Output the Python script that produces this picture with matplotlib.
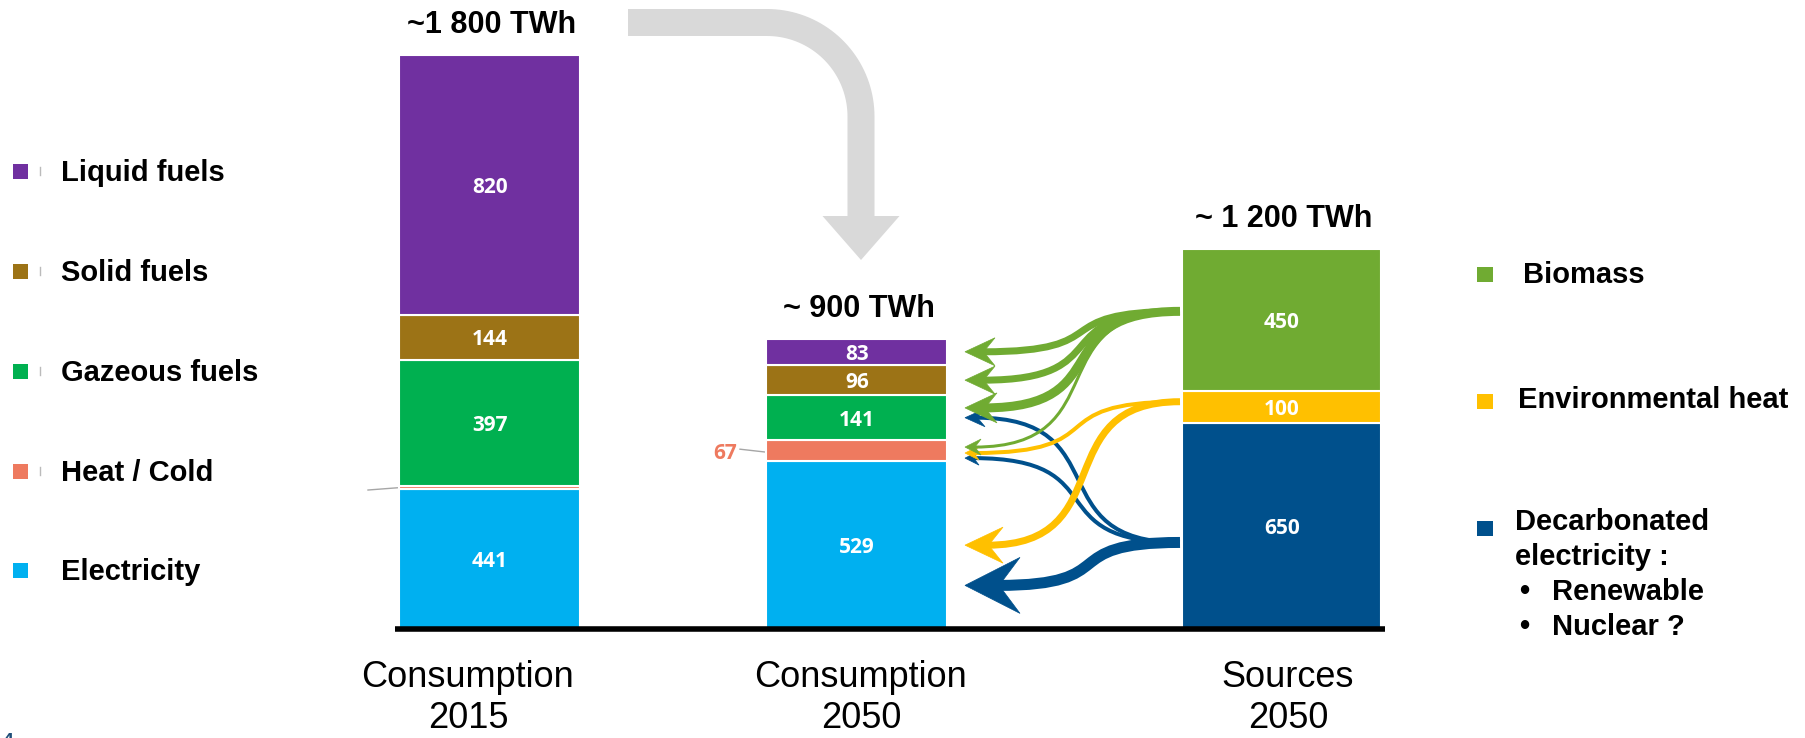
import numpy as np
import matplotlib
matplotlib.use('Agg')
import matplotlib.pyplot as plt
import matplotlib.transforms as mtransforms
from matplotlib.path import Path
from matplotlib.patches import PathPatch, Polygon, Rectangle

# final energy by carrier, stacked bottom -> top
carriers = ['Electricity', 'Heat / Cold', 'Gazeous fuels', 'Solid fuels', 'Liquid fuels']
cons_2015 = [441, 10, 397, 144, 820]
cons_2050 = [529, 67, 141, 96, 83]
carrier_colors = ['#00B0F0', '#EE7A5F', '#00B050', '#9C7316', '#7030A0']

# primary sources in 2050, stacked bottom -> top
sources = ['Decarbonated electricity', 'Environmental heat', 'Biomass']
src_2050 = [650, 100, 450]
source_colors = ['#00508C', '#FFC000', '#70AB32']

column_labels = [['Consumption', '2015'], ['Consumption', '2050'], ['Sources', '2050']]
total_labels = ['~1 800 TWh', '~ 900 TWh', '~ 1 200 TWh']

# which source feeds which carrier in 2050
flow_links = [
    ('Decarbonated electricity', 'Gazeous fuels'),
    ('Decarbonated electricity', 'Heat / Cold'),
    ('Decarbonated electricity', 'Electricity'),
    ('Environmental heat', 'Heat / Cold'),
    ('Environmental heat', 'Electricity'),
    ('Biomass', 'Liquid fuels'),
    ('Biomass', 'Solid fuels'),
    ('Biomass', 'Gazeous fuels'),
    ('Biomass', 'Heat / Cold'),
]
# arrow styling per link: (exit frac, entry frac, line px, head length px, head width px)
flow_style = [
    (0.42, 0.50, 4, 20, 18),
    (0.42, 0.15, 4, 14, 14),
    (0.42, 0.26, 11, 55, 56),
    (0.67, 0.39, 4, 14, 14),
    (0.67, 0.50, 7, 38, 36),
    (0.56, 0.50, 7, 30, 28),
    (0.56, 0.50, 7, 30, 28),
    (0.56, 0.72, 9, 32, 30),
    (0.56, 0.67, 3, 16, 16),
]

W, H = 1806, 738
PX = 0.317      # pixels per TWh
BASE = 629      # baseline, pixels from top
FONT = 'Liberation Sans'
NUMFONT = 'Open Sans'

fig = plt.figure(figsize=(W / 100, H / 100), dpi=100)
ax = fig.add_axes([0, 0, 1, 1])
ax.set_xlim(0, W)
ax.set_ylim(-(H - BASE) / PX, BASE / PX)
ax.axis('off')
# pixel coordinates measured from the top-left corner
px = mtransforms.Affine2D().scale(1 / W, -1 / H).translate(0, 1) + fig.transFigure

bar_x = [490, 857, 1282]
bar_w = [181, 181, 199]
stacks = [cons_2015, cons_2050, src_2050]
colors = [carrier_colors, carrier_colors, source_colors]

for x, w, vals, cols in zip(bar_x, bar_w, stacks, colors):
    bottoms = np.concatenate([[0], np.cumsum(vals)[:-1]])
    ax.bar([x] * len(vals), vals, width=w, bottom=bottoms, color=cols,
           edgecolor='white', linewidth=1.5, zorder=2)
    for i, (v, b) in enumerate(zip(vals, bottoms)):
        if vals is not src_2050 and i == 1:
            continue
        ax.text(x, b + v / 2, str(v), ha='center', va='center_baseline', color='white',
                fontsize=15, fontweight='bold', family=NUMFONT, zorder=3)

# totals above the columns
for x, vals, lab in zip(bar_x, stacks, total_labels):
    ax.text(x + 2, sum(vals) + 33 / PX, lab, ha='center', va='center_baseline',
            fontsize=22, fontweight='bold', family=FONT)

# baseline
ax.plot([395, 1385], [0, 0], color='black', lw=4, solid_capstyle='butt', zorder=4)

# column names
label_x = [468, 861, 1288]
for x, (l1, l2) in zip(label_x, column_labels):
    ax.text(x, 687, l1, transform=px, ha='center', va='baseline', fontsize=26, family=FONT)
    ax.text(x, 728, l2, transform=px, ha='center', va='baseline', fontsize=26, family=FONT)

# heat / cold leader lines
heat_2015 = cons_2015[0] + cons_2015[1] / 2
ax.plot([368, bar_x[0] - bar_w[0] / 2], [heat_2015 - 2.4 / PX, heat_2015],
        color='#A6A6A6', lw=1, zorder=1)
heat_2050 = cons_2050[0] + cons_2050[1] / 2
ax.plot([740, bar_x[1] - bar_w[1] / 2], [heat_2050 + 1.5 / PX, heat_2050 - 1.5 / PX],
        color='#A6A6A6', lw=1, zorder=1)
ax.text(737, heat_2050, str(cons_2050[1]), ha='right', va='center_baseline',
        color=carrier_colors[1], fontsize=15, fontweight='bold', family=NUMFONT)

# big grey arrow from 2015 to 2050
vx = bar_x[1] + 4
th = np.linspace(-np.pi / 2, 0, 40)
arc_x = vx - 94 + 94 * np.cos(th)
arc_y = 116.5 + 94 * np.sin(th)
gx = np.concatenate([[628], arc_x, [vx]])
gy = np.concatenate([[22.5], arc_y, [217]])
ax.plot(gx, gy, transform=px, color='#D9D9D9', lw=27 * 0.72,
        solid_capstyle='butt', solid_joinstyle='round', zorder=1)
ax.add_patch(Polygon([(vx - 38.5, 216), (vx + 38.5, 216), (vx, 260)], closed=True,
                     transform=px, fc='#D9D9D9', ec='none', zorder=1))


def seg_level(vals, names, name, frac):
    i = names.index(name)
    return sum(vals[:i]) + frac * vals[i]


def draw_flow(y0, y1, color, lw, head_l, head_w, x0=1180, x1=965):
    xn = x1 + 0.6 * head_l
    d = x0 - xn
    verts = [(x0, y0), (x0 - 0.7 * d, y0), (xn + 0.7 * d, y1), (xn, y1)]
    ax.add_patch(PathPatch(Path(verts, [Path.MOVETO] + [Path.CURVE4] * 3),
                           fc='none', ec=color, lw=lw * 0.72, capstyle='butt', zorder=5))
    hw = head_w / 2 / PX
    head = [(x1, y1), (x1 + head_l, y1 + hw), (x1 + 0.62 * head_l, y1), (x1 + head_l, y1 - hw)]
    ax.add_patch(Polygon(head, closed=True, fc=color, ec=color, lw=0.5, zorder=5))


for (src, dst), (fs, fd, lw, hl, hw) in zip(flow_links, flow_style):
    y0 = seg_level(src_2050, sources, src, fs)
    y1 = seg_level(cons_2050, carriers, dst, fd)
    draw_flow(y0, y1, source_colors[sources.index(src)], lw, hl, hw)

# left legend: consumption carriers
left_y = [570, 471, 371, 271, 171]
for name, col, yc in zip(carriers, carrier_colors, left_y):
    ax.add_patch(Rectangle((13, yc - 7.5), 15, 15, transform=px, fc=col, ec='none'))
    if name != 'Electricity':
        ax.plot([40, 40], [yc - 4, yc + 4], transform=px, color='#BBBBBB', lw=1)
    ax.text(61, yc + 10.4, name, transform=px, va='baseline', fontsize=21,
            fontweight='bold', family=FONT)

# right legend: sources
right_sq = [528, 401, 274]
for col, yc in zip(source_colors, right_sq):
    ax.add_patch(Rectangle((1477, yc - 7.5), 16, 15, transform=px, fc=col, ec='none'))
ax.text(1523, 273 + 10.4, 'Biomass', transform=px, va='baseline', fontsize=21,
        fontweight='bold', family=FONT)
ax.text(1518, 398 + 10.4, 'Environmental heat', transform=px, va='baseline', fontsize=21,
        fontweight='bold', family=FONT)
for txt, x, yc in [('Decarbonated', 1515, 520), ('electricity :', 1515, 555),
                   ('•', 1519, 590), ('Renewable', 1552, 590),
                   ('•', 1519, 625), ('Nuclear ?', 1552, 625)]:
    ax.text(x, yc + 10.4, txt, transform=px, va='baseline', fontsize=21,
            fontweight='bold', family=FONT)

# page number peeking in at the corner
ax.text(3, 733, '4', transform=px, va='top', fontsize=14, color='#1F4E79',
        fontweight='bold', family=FONT)

fig.savefig('out.png', dpi=100)
